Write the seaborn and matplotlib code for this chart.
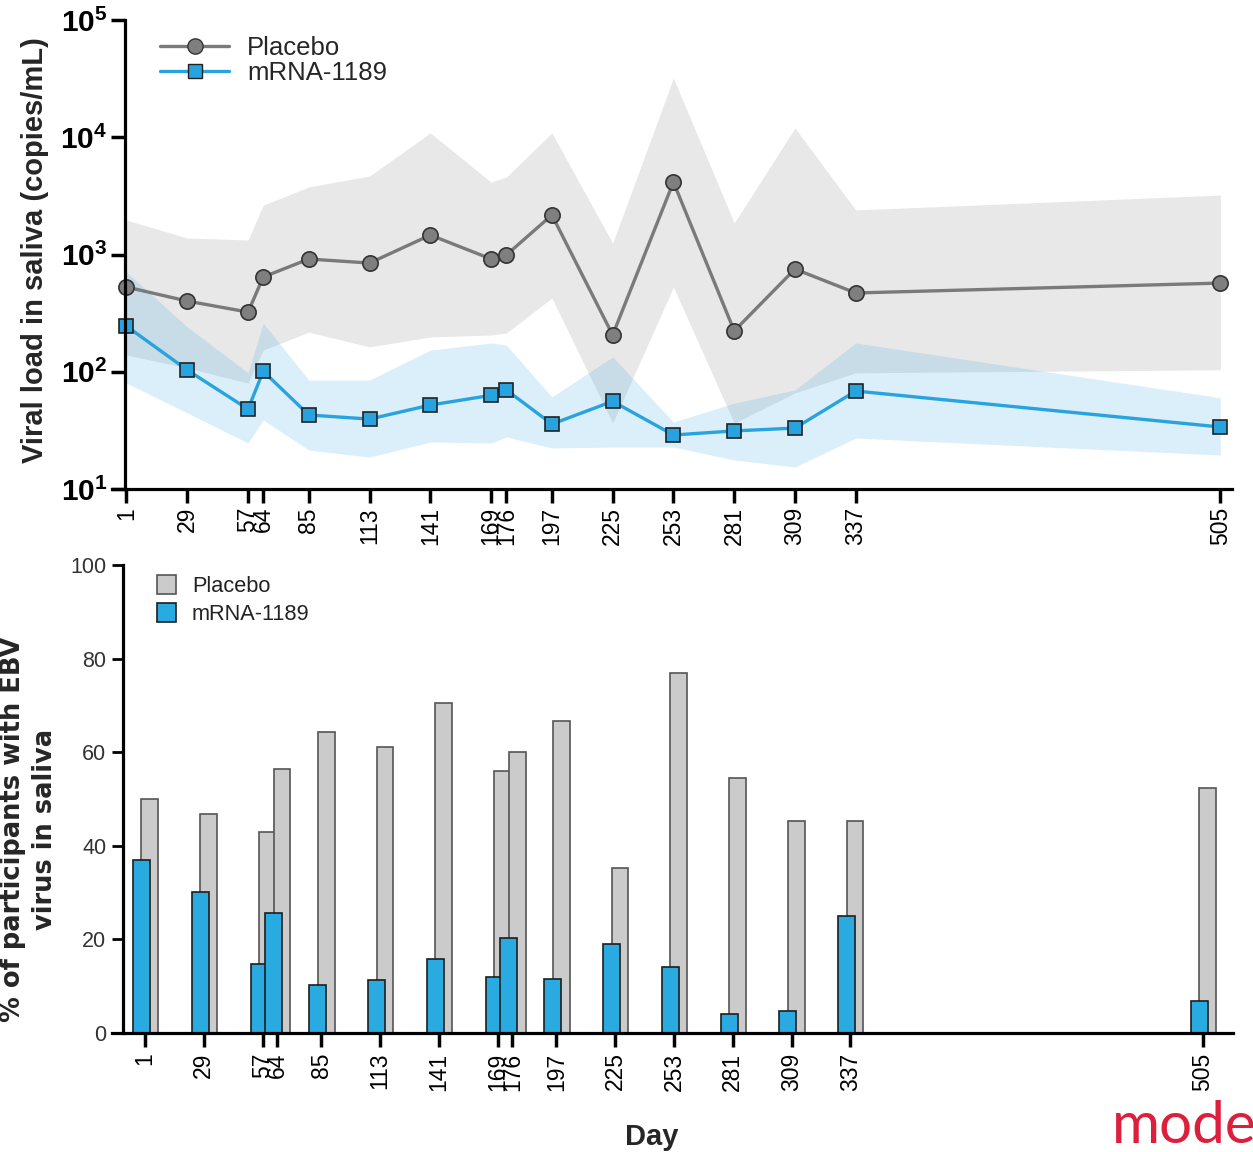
import numpy as np
import seaborn as sns
import matplotlib
matplotlib.use("Agg")
from matplotlib import pyplot as plt
from matplotlib.patches import Patch
from matplotlib.lines import Line2D
from matplotlib.ticker import NullLocator

days = [1, 29, 57, 64, 85, 113, 141, 169, 176, 197, 225, 253, 281, 309, 337, 505]
day_labels = [str(d) for d in days]

# Viral load in saliva (copies/mL): mean and band limits per group
placebo_load = [528, 401, 323, 643, 916, 846, 1466, 916, 991, 2173, 206, 4150, 223, 752, 470, 571]
placebo_hi = [1970, 1383, 1330, 2640, 3770, 4680, 10900, 4150, 4580, 10900, 1250, 32000, 1860, 12000, 2400, 3215]
placebo_lo = [139, 108, 80, 153, 218, 163, 198, 206, 214, 426, 36.5, 528, 36.5, 66, 98, 104]

mrna_load = [245, 103.5, 48, 101, 42.8, 39.5, 52, 63, 70, 35.8, 56, 28.9, 31.3, 33.1, 68.5, 33.8]
mrna_hi = [709, 241, 98, 260, 85, 85, 153, 176, 169, 61, 134, 37.3, 54, 70, 176, 60]
mrna_lo = [80, 44.5, 24.7, 38.8, 21.5, 18.7, 25.2, 24.7, 27.8, 22.4, 22.8, 22.8, 17.7, 15.4, 27.2, 19.5]

# % of participants with EBV virus in saliva
placebo_pct = [50.0, 46.8, 42.9, 56.4, 64.3, 61.1, 70.5, 56.0, 60.0, 66.7, 35.3, 76.9, 54.5, 45.3, 45.3, 52.4]
mrna_pct = [37.0, 30.1, 14.7, 25.6, 10.3, 11.3, 15.8, 12.0, 20.3, 11.5, 19.0, 14.1, 4.1, 4.7, 25.0, 6.8]

GRAY = "#7f7f7f"
BLUE = "#29a3e0"

sns.set_style("ticks")
plt.rcParams["font.family"] = ["Liberation Sans", "DejaVu Sans"]
plt.rcParams["mathtext.fontset"] = "custom"
plt.rcParams["mathtext.bf"] = "Liberation Sans:bold"
plt.rcParams["mathtext.rm"] = "Liberation Sans"

fig = plt.figure(figsize=(12.53, 11.52), dpi=100)
ax1 = fig.add_axes([0.089, 0.5755, 0.8945, 0.4071])
ax2 = fig.add_axes([0.089, 0.1033, 0.895, 0.4063])

# ---- top: viral load ----
ax1.set_yscale("log")
ax1.fill_between(days, placebo_lo, placebo_hi, color="#808080", alpha=0.18, lw=0)
ax1.fill_between(days, mrna_lo, mrna_hi, color=BLUE, alpha=0.17, lw=0)
sns.lineplot(x=days, y=placebo_load, ax=ax1, color="#7a7a7a", lw=2.4, marker="o",
             ms=11, mfc=GRAY, mec="#333333", mew=1.2)
sns.lineplot(x=days, y=mrna_load, ax=ax1, color=BLUE, lw=2.4, marker="s",
             ms=10.5, mfc=BLUE, mec="#222222", mew=1.2)

ax1.set_xlim(-5.9, 510.5)
ax1.set_ylim(10, 1e5)
for s in ["top", "right"]:
    ax1.spines[s].set_visible(False)
ax1.spines["left"].set_position(("data", 0.5))
for s in ["left", "bottom"]:
    ax1.spines[s].set_linewidth(2.3)
    ax1.spines[s].set_color("black")
ax1.set_xticks(days, day_labels, rotation=90)
ax1.set_yticks([10, 100, 1000, 1e4, 1e5],
               [r"$\mathbf{10^{%d}}$" % k for k in range(1, 6)])
ax1.yaxis.set_minor_locator(NullLocator())
ax1.tick_params(axis="x", length=10, width=2.5, labelsize=16.5, pad=3,
                color="black", labelcolor="black")
ax1.tick_params(axis="y", length=10, width=2.5, labelsize=21.5, pad=3,
                color="black", labelcolor="black")
ax1.set_xlabel("")
ax1.set_ylabel("")

leg_handles = [
    Line2D([], [], color="#7a7a7a", lw=2.4, marker="o", ms=11, mfc=GRAY, mec="#333333"),
    Line2D([], [], color=BLUE, lw=2.4, marker="s", ms=10.5, mfc=BLUE, mec="#222222"),
]
ax1.legend(leg_handles, ["Placebo", "mRNA-1189"], loc="upper left",
           bbox_to_anchor=(0.1277, 0.9688), bbox_transform=fig.transFigure,
           frameon=False, fontsize=18.5, handlelength=2.7, handletextpad=0.7,
           labelspacing=0.03, borderpad=0, borderaxespad=0)

# ---- bottom: % with EBV in saliva ----
sns.barplot(x=np.array(days) + 2.25, y=placebo_pct, native_scale=True, width=8 / 7,
            color="#cbcbcb", saturation=1, edgecolor="#555555", linewidth=1.2,
            errorbar=None, ax=ax2)
sns.barplot(x=np.array(days) - 1.75, y=mrna_pct, native_scale=True, width=8 / 7,
            color="#29aae1", saturation=1, edgecolor="#1e1e1e", linewidth=1.2,
            errorbar=None, ax=ax2)

ax2.set_xlim(-15, 519.3)
ax2.set_ylim(0, 100)
for s in ["top", "right"]:
    ax2.spines[s].set_visible(False)
ax2.spines["left"].set_position(("data", -9.5))
for s in ["left", "bottom"]:
    ax2.spines[s].set_linewidth(2.3)
    ax2.spines[s].set_color("black")
ax2.set_xticks(days, day_labels, rotation=90)
ax2.set_yticks([0, 20, 40, 60, 80, 100])
ax2.tick_params(axis="x", length=10, width=2.5, labelsize=16.5, pad=4,
                color="black", labelcolor="black")
ax2.tick_params(axis="y", length=8, width=2, labelsize=15.5, labelcolor="#333333",
                color="black", pad=4)
ax2.set_xlabel("")
ax2.set_ylabel("")

bar_handles = [
    Patch(facecolor="#cbcbcb", edgecolor="#555555", lw=1.2),
    Patch(facecolor="#29aae1", edgecolor="#1e1e1e", lw=1.2),
]
ax2.legend(bar_handles, ["Placebo", "mRNA-1189"], loc="upper left",
           bbox_to_anchor=(0.1253, 0.5009), bbox_transform=fig.transFigure,
           frameon=False, fontsize=15.7, handlelength=0.85, handleheight=0.95,
           handletextpad=0.75, labelspacing=0.3, borderpad=0, borderaxespad=0,
           labelcolor="#222222")

# ---- figure texts ----
fig.text(35 / 1253, 1 - 250 / 1152, "Viral load in saliva (copies/mL)", rotation=90,
         ha="center", va="center", fontsize=21, weight="bold")
fig.text(29 / 1253, 1 - 829 / 1152, "% of participants with EBV\nvirus in saliva",
         rotation=90, ha="center", va="center", fontsize=18.5, weight="bold",
         family="DejaVu Sans", linespacing=1.25, multialignment="center")
fig.text(652 / 1253, 1 - 1137 / 1152, "Day", ha="center", va="center",
         fontsize=21, weight="bold")
fig.text(1112 / 1253, 1 - 1143 / 1152, "moderna", ha="left", va="baseline",
         fontsize=42, color="#dc1f3c", family="Lato", weight="normal")

fig.savefig("out.png", dpi=100)
